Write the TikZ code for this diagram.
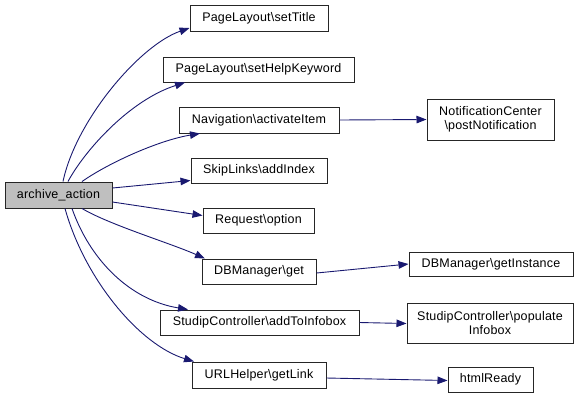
\documentclass[tikz,border=0pt]{standalone}
\usepackage{fontspec}
\setmainfont{Liberation Sans}[LetterSpace=1.5]
\usetikzlibrary{arrows.meta,calc}
\definecolor{edgec}{HTML}{191970}
\definecolor{boxc}{HTML}{262626}
\definecolor{rootc}{HTML}{BFBFBF}
\begin{document}
\begin{tikzpicture}[x=1pt,y=-1pt,
  fn/.style={draw=boxc,line width=1pt,fill=white,rectangle,inner sep=0pt,align=center,
    font=\fontsize{12.5}{14.5}\selectfont},
  call/.style={draw=edgec,line width=0.9pt,-{Triangle[length=10pt,width=7.5pt]}},
]
\useasboundingbox (0,0) rectangle (580,400);
\node[fn,fill=rootc,minimum width=107pt,minimum height=26pt] (arch) at (58.5,195) {archive\_action};
\node[fn,minimum width=138pt,minimum height=26pt] (t1) at (259,18) {PageLayout\textbackslash setTitle};
\node[fn,minimum width=191pt,minimum height=25pt] (t2) at (258.5,69.5) {PageLayout\textbackslash setHelpKeyword};
\node[fn,minimum width=160pt,minimum height=26pt] (t3) at (259,120) {Navigation\textbackslash activateItem};
\node[fn,minimum width=136pt,minimum height=25pt] (t4) at (259,170.5) {SkipLinks\textbackslash addIndex};
\node[fn,minimum width=111pt,minimum height=25pt] (t5) at (258.5,220.5) {Request\textbackslash option};
\node[fn,minimum width=114pt,minimum height=25pt] (t6) at (259,271.5) {DBManager\textbackslash get};
\node[fn,minimum width=199pt,minimum height=25pt] (t7) at (259.5,322.5) {StudipController\textbackslash addToInfobox};
\node[fn,minimum width=134pt,minimum height=26pt] (t8) at (259,375) {URLHelper\textbackslash getLink};
\node[fn,minimum width=127pt,minimum height=41pt] (u1) at (490.5,119.5) {NotificationCenter\\\textbackslash postNotification};
\node[fn,minimum width=164pt,minimum height=24pt] (u2) at (491,264) {DBManager\textbackslash getInstance};
\node[fn,minimum width=166pt,minimum height=40pt] (u3) at (490,323) {StudipController\textbackslash populate\\Infobox};
\node[fn,minimum width=85pt,minimum height=25pt] (u4) at (490.5,379.5) {htmlReady};

\draw[call] ([xshift=4.5pt]arch.north) .. controls (76,120) and (140,45) .. ([yshift=-10pt]t1.west);
\draw[call] ([xshift=9.5pt]arch.north) .. controls (85,150) and (130,100) .. ([xshift=-73.5pt]t2.south);
\draw[call] ([xshift=23.5pt]arch.north) .. controls (110,162) and (160,140) .. ([xshift=-59pt]t3.south);
\draw[call] ([yshift=7pt]arch.east) -- ([yshift=-10pt]t4.west);
\draw[call] ([yshift=-7pt]arch.east) -- ([yshift=5pt]t5.west);
\draw[call] ([xshift=23.5pt]arch.south) .. controls (110,225) and (170,243) .. ([xshift=-54pt]t6.north);
\draw[call] ([xshift=13.5pt]arch.south) .. controls (90,260) and (130,300) .. ([xshift=-71.5pt]t7.north);
\draw[call] ([xshift=6.5pt]arch.south) .. controls (85,280) and (140,345) .. ([xshift=-65pt]t8.north);
\draw[call] (t3.east) -- (u1.west);
\draw[call] ([yshift=-1.5pt]t6.east) -- (u2.west);
\draw[call] (t7.east) -- ([yshift=-0.5pt]u3.west);
\draw[call] ([yshift=-3pt]t8.east) -- ([yshift=-1pt]u4.west);
\end{tikzpicture}
\end{document}
